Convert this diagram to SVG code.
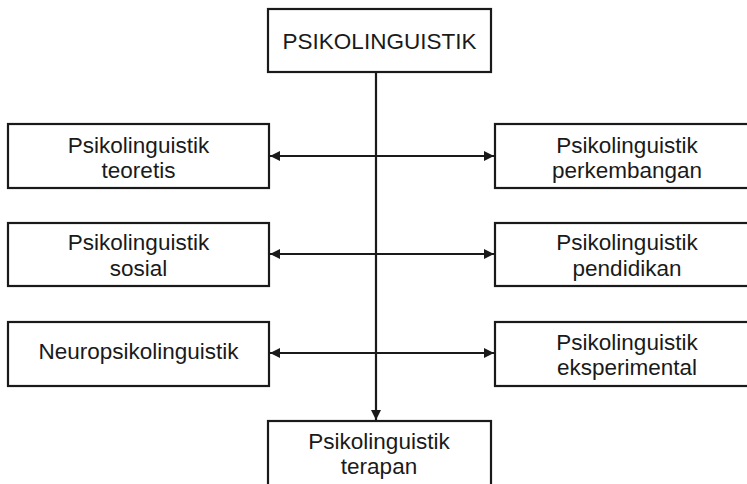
<svg xmlns="http://www.w3.org/2000/svg" width="747" height="484" viewBox="0 0 747 484">
<style>
.box{fill:#fff;stroke:#1a1a1a;stroke-width:2.2}
.t{font-family:"Liberation Sans",Arial,sans-serif;font-size:22.5px;fill:#1a1a1a;text-anchor:middle}
.c{stroke:#1a1a1a;stroke-width:2.2;fill:none}
</style>
<defs>
<marker id="ah" viewBox="0 0 10 10" refX="10" refY="5" markerWidth="10" markerHeight="10" markerUnits="userSpaceOnUse" orient="auto-start-reverse">
<path d="M0,0 L10,5 L0,10 Z" fill="#1a1a1a"/>
</marker>
</defs>
<rect width="747" height="484" fill="#fff"/>
<g id="connectors">
<line class="c" x1="376" y1="72" x2="376" y2="420" marker-end="url(#ah)"/>
<line class="c" x1="270" y1="156" x2="494" y2="156" marker-start="url(#ah)" marker-end="url(#ah)"/>
<line class="c" x1="270" y1="254" x2="494" y2="254" marker-start="url(#ah)" marker-end="url(#ah)"/>
<line class="c" x1="270" y1="353" x2="494" y2="353" marker-start="url(#ah)" marker-end="url(#ah)"/>
</g>
<g id="root"><rect class="box" x="268" y="9" width="223" height="63"/><text class="t" x="379.5" y="48.5">PSIKOLINGUISTIK</text></g>
<g id="teoretis"><rect class="box" x="8" y="124" width="261" height="64"/><text class="t" x="138.5" y="152.5">Psikolinguistik</text><text class="t" x="138.5" y="178">teoretis</text></g>
<g id="sosial"><rect class="box" x="8" y="223" width="261" height="63"/><text class="t" x="138.5" y="250">Psikolinguistik</text><text class="t" x="138.5" y="275.5">sosial</text></g>
<g id="neuro"><rect class="box" x="8" y="322" width="261" height="64"/><text class="t" x="138.5" y="358.5">Neuropsikolinguistik</text></g>
<g id="perkembangan"><rect class="box" x="495" y="124" width="264" height="64"/><text class="t" x="627" y="152.5">Psikolinguistik</text><text class="t" x="627" y="178">perkembangan</text></g>
<g id="pendidikan"><rect class="box" x="495" y="223" width="264" height="63"/><text class="t" x="627" y="250">Psikolinguistik</text><text class="t" x="627" y="275.5">pendidikan</text></g>
<g id="eksperimental"><rect class="box" x="495" y="322" width="264" height="64"/><text class="t" x="627" y="349.5">Psikolinguistik</text><text class="t" x="627" y="375">eksperimental</text></g>
<g id="terapan"><rect class="box" x="268" y="421" width="223" height="70"/><text class="t" x="379" y="448.5">Psikolinguistik</text><text class="t" x="379" y="474">terapan</text></g>
</svg>
